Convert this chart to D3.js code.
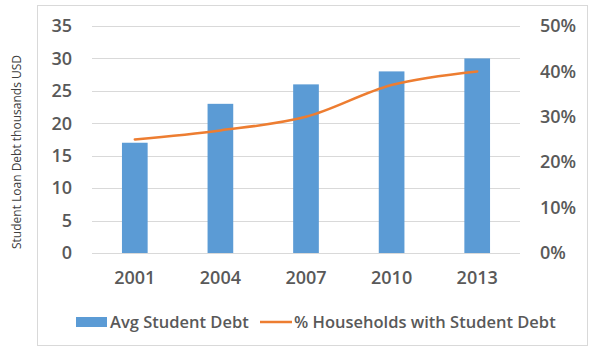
<!DOCTYPE html>
<html><head><meta charset="utf-8">
<script src="https://cdn.jsdelivr.net/npm/d3@7"></script>
<style>body{margin:0;background:#fff}svg{display:block}</style>
</head><body>
<script>
const years = ["2001","2004","2007","2010","2013"];
const avgDebt = [17, 23, 26, 28, 30];
const pctHouseholds = [0.25, 0.27, 0.30, 0.37, 0.40];
const leftTicks = [0,5,10,15,20,25,30,35];
const rightTicks = [0,0.1,0.2,0.3,0.4,0.5];

const W=594,H=347;
const svg=d3.select("body").append("svg").attr("width",W).attr("height",H);
const font="'Open Sans', sans-serif", grey="#595959";
svg.append("rect").attr("x",37.5).attr("y",5.5).attr("width",550).attr("height",340)
  .attr("fill","#fff").attr("stroke","#d9d9d9");

const x=d3.scaleBand().domain(years).range([92,520]).paddingInner(0.7).paddingOuter(0.35);
const y=d3.scaleLinear().domain([0,35]).range([253,26]);
const y2=d3.scaleLinear().domain([0,0.5]).range([253,26]);

svg.append("g").selectAll("line").data(leftTicks).join("line")
  .attr("x1",92).attr("x2",520).attr("y1",d=>Math.round(y(d))+0.5).attr("y2",d=>Math.round(y(d))+0.5)
  .attr("stroke","#d9d9d9");

const axFont=18;
const la=svg.append("g").attr("transform","translate(72,0)")
  .call(d3.axisLeft(y).tickValues(leftTicks).tickSize(0).tickPadding(0));
la.select(".domain").remove();
la.selectAll("text").attr("font-family",font).attr("font-size",axFont).attr("font-weight",600).attr("fill",grey);

const ra=svg.append("g").attr("transform","translate(540,0)")
  .call(d3.axisRight(y2).tickValues(rightTicks).tickFormat(d3.format(".0%")).tickSize(0).tickPadding(0));
ra.select(".domain").remove();
ra.selectAll("text").attr("font-family",font).attr("font-size",axFont).attr("font-weight",600).attr("fill",grey);

const xa=svg.append("g").attr("transform","translate(0,271)")
  .call(d3.axisBottom(x).tickSize(0).tickPadding(0));
xa.select(".domain").remove();
xa.selectAll("text").attr("font-family",font).attr("font-size",axFont).attr("font-weight",600).attr("fill",grey);

svg.append("g").selectAll("rect").data(years).join("rect")
  .attr("x",d=>x(d)).attr("width",x.bandwidth())
  .attr("y",(d,i)=>y(avgDebt[i])).attr("height",(d,i)=>y(0)-y(avgDebt[i]))
  .attr("fill","#5B9BD5");

const line=d3.line().x((d,i)=>x(years[i])+x.bandwidth()/2).y(d=>y2(d)).curve(d3.curveCatmullRom.alpha(0.5));
svg.append("path").datum(pctHouseholds).attr("d",line).attr("fill","none")
  .attr("stroke","#ED7D31").attr("stroke-width",2.5).attr("stroke-linecap","round");

svg.append("text").attr("transform","translate(21,152) rotate(-90)").attr("text-anchor","middle")
  .attr("font-family",font).attr("font-size",12).attr("fill","#404040").text("Student Loan Debt thousands USD");

const lg=svg.append("g");
lg.append("rect").attr("x",76).attr("y",317).attr("width",31).attr("height",10).attr("fill","#5B9BD5");
lg.append("text").attr("x",110).attr("y",328).attr("font-family",font).attr("font-size",16.5).attr("font-weight",600).attr("fill",grey).text("Avg Student Debt");
lg.append("line").attr("x1",260).attr("x2",292).attr("y1",322).attr("y2",322).attr("stroke","#ED7D31").attr("stroke-width",2.5);
lg.append("text").attr("x",294).attr("y",328).attr("font-family",font).attr("font-size",16.5).attr("font-weight",600).attr("fill",grey).text("% Households with Student Debt");
</script>
</body></html>
